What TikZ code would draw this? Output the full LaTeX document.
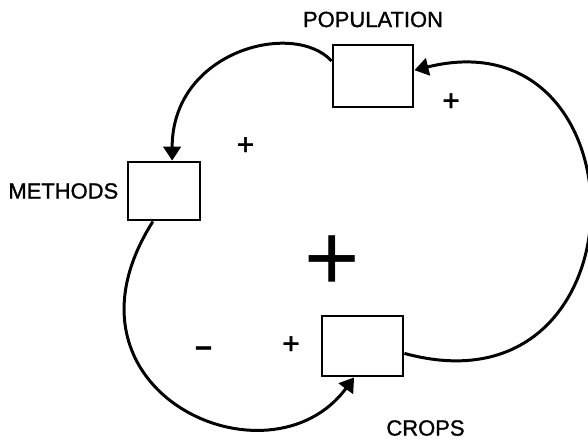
\documentclass[tikz,border=0pt]{standalone}
\usepackage{fontspec}
\setmainfont{Liberation Sans}
\newfontfamily\diagramfont[FakeBold=1.2]{Liberation Sans}
\usetikzlibrary{arrows.meta, positioning}

\begin{document}
\begin{tikzpicture}[
    >={Triangle[length=8pt, width=10pt]},
    % Define styles for the elements
    stock box/.style={
        rectangle,
        draw=black,
        line width=1.6pt,
        inner sep=0pt
    },
    stock label/.style={
        font=\diagramfont\fontsize{12.5}{15}\selectfont,
        inner sep=0pt
    },
    loop sign/.style={
        font=\diagramfont\fontsize{17}{20}\selectfont,
        inner sep=0pt
    },
    loop link/.style={
        ->,
        line width=1.7pt
    }
]
    \useasboundingbox (0,0) rectangle (11.76,-8.82);

    % --- Stocks ---
    \node[stock box, minimum width=1.6cm, minimum height=1.24cm] (pop) at (7.46,-1.52) {};
    \node[stock box, minimum width=1.44cm, minimum height=1.16cm] (methods) at (3.28,-3.82) {};
    \node[stock box, minimum width=1.62cm, minimum height=1.2cm] (crops) at (7.25,-6.92) {};

    % Labels
    \node[stock label, above=0.32cm of pop] (poplabel) {POPULATION};
    \node[stock label, left=0.16cm of methods] (methodslabel) {METHODS};
    \node[stock label] (cropslabel) at (8.51,-8.56) {CROPS};

    % --- Signs ---
    \node[loop sign] (popsign) at (9.02,-2.04) {+};
    \node[loop sign] (methodssign) at (4.91,-2.92) {+};
    \node[loop sign] (cropssign) at (5.82,-6.9) {+};
    \node[loop sign] (minussign) at (4.07,-7.04) {\scalebox{2.0}[1.2]{-}};
    \node[loop sign, font=\fontsize{54}{60}\selectfont] (loopsign) at (6.64,-5.26) {+};

    % --- Links ---
    \draw[loop link] (pop.160) .. controls +(-0.76,0.82) and +(0,2.2) .. (methods.75);
    \draw[loop link] (methods.250) .. controls +(-2.16,-3.4) and +(-1.7,-2.3) .. (crops.255);
    \draw[loop link] (crops.-10) .. controls +(4.9,-1.34) and +(4.7,1.16) .. (pop.8);

\end{tikzpicture}
\end{document}
